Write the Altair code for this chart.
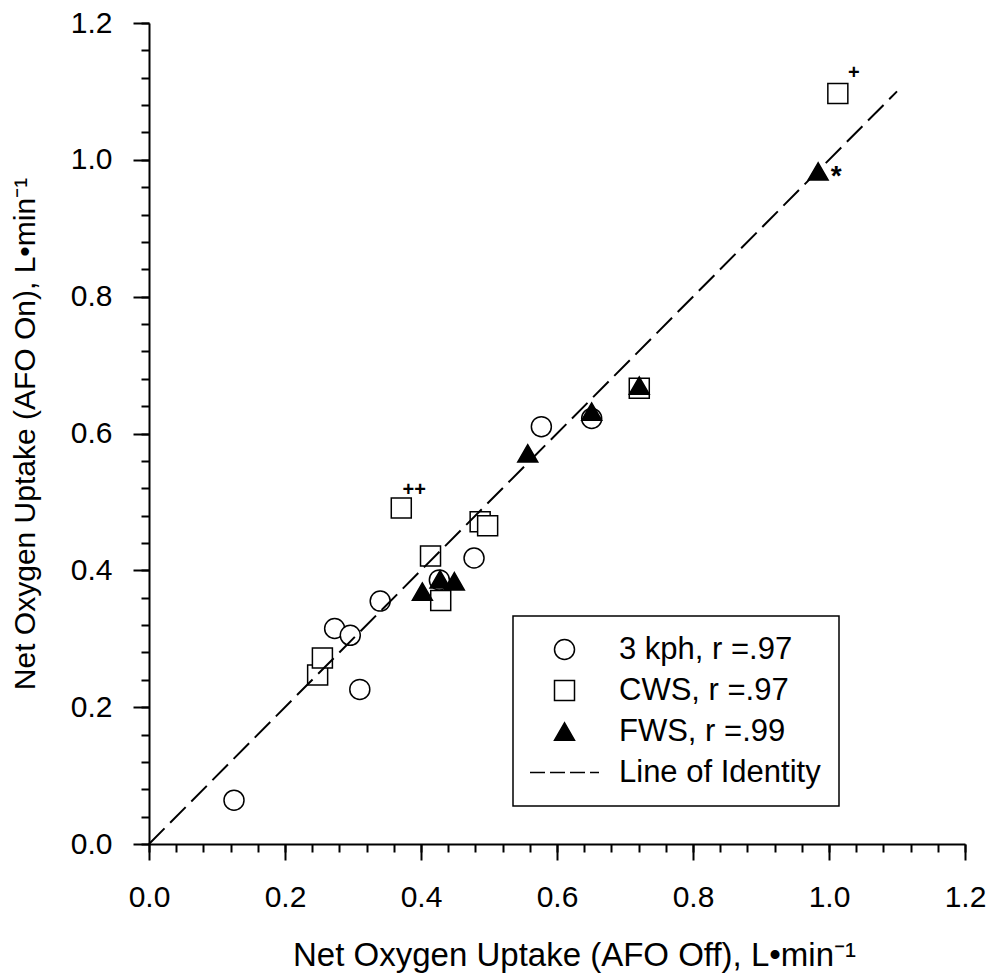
import altair as alt
import pandas as pd

# ---- data ----
kph_x = [0.125, 0.273, 0.296, 0.310, 0.340, 0.427, 0.478, 0.577, 0.651]
kph_y = [0.064, 0.315, 0.305, 0.226, 0.355, 0.386, 0.418, 0.610, 0.622]
cws_x = [0.248, 0.255, 0.371, 0.414, 0.429, 0.487, 0.498, 0.721, 1.013]
cws_y = [0.247, 0.272, 0.491, 0.421, 0.356, 0.471, 0.465, 0.666, 1.097]
fws_x = [0.402, 0.428, 0.449, 0.557, 0.651, 0.721, 0.984]
fws_y = [0.369, 0.387, 0.384, 0.571, 0.632, 0.670, 0.983]

series_names = ["3 kph, r =.97", "CWS, r =.97", "FWS, r =.99", "Line of Identity"]

identity_x = [0.0, 1.1]
identity_y = [0.0, 1.1]

major_ticks = [0.0, 0.2, 0.4, 0.6, 0.8, 1.0, 1.2]
minor_ticks = [0.0, 0.04, 0.08, 0.12, 0.16, 0.2, 0.24, 0.28, 0.32, 0.36, 0.4,
               0.44, 0.48, 0.52, 0.56, 0.6, 0.64, 0.68, 0.72, 0.76, 0.8,
               0.84, 0.88, 0.92, 0.96, 1.0, 1.04, 1.08, 1.12, 1.16, 1.2]

# annotations: text and the point each one belongs to
ann_text = ["++", "+", "*"]
ann_x = [0.371, 1.013, 0.984]
ann_y = [0.491, 1.097, 0.983]

x_title = "Net Oxygen Uptake (AFO Off), L\u2022min\u207b\u00b9"
y_title = "Net Oxygen Uptake (AFO On), L\u2022min\u207b\u00b9"

FONT = "Liberation Sans"

points = pd.DataFrame({
    "x": kph_x + cws_x + fws_x,
    "y": kph_y + cws_y + fws_y,
    "series": [series_names[0]] * len(kph_x)
    + [series_names[1]] * len(cws_x)
    + [series_names[2]] * len(fws_x),
})
line_df = pd.DataFrame({"x": identity_x, "y": identity_y})
ann_df = pd.DataFrame({"x": ann_x, "y": ann_y, "t": ann_text})

xscale = alt.Scale(domain=[0, 1.2], nice=False, zero=False)
yscale = alt.Scale(domain=[0, 1.2], nice=False, zero=False)

dash_path = "M-3.45,0H-1.95M-1.45,0H0.05M0.55,0H2.05M2.55,0H3.45"
shape_range = ["circle", "square", "triangle-up", dash_path]
fill_range = ["white", "white", "black", "transparent"]
stroke_range = ["black", "black", "black", "black"]

legend = alt.Legend(
    title=None,
    orient="none",
    legendX=364,
    legendY=593,
    padding=18,
    symbolOffset=18,
    labelOffset=39,
    symbolSize=400,
    symbolStrokeColor="black",
    symbolStrokeWidth=1.5,
    labelFont=FONT,
    labelFontSize=31,
    labelColor="black",
    labelLimit=500,
    rowPadding=9,
    strokeColor="black",
    fillColor="white",
)

major_x_axis = alt.Axis(
    values=major_ticks, format=".1f", orient="bottom", tickSize=16,
    labelPadding=22, labelFlush=False, titlePadding=27, titleFontSize=33,
    titleX=425,
)
major_y_axis = alt.Axis(
    values=major_ticks, format=".1f", orient="left", tickSize=16,
    labelPadding=21, labelFlush=False, titlePadding=30, titleFontSize=30,
)
minor_x_axis = alt.Axis(
    values=minor_ticks, orient="bottom", tickSize=8, labels=False, domain=False,
)
minor_y_axis = alt.Axis(
    values=minor_ticks, orient="left", tickSize=8, labels=False, domain=False,
)

pts = alt.Chart(points).mark_point(
    strokeWidth=1.5, opacity=1, size=400
).encode(
    x=alt.X("x:Q", scale=xscale, axis=major_x_axis, title=x_title),
    y=alt.Y("y:Q", scale=yscale, axis=major_y_axis, title=y_title),
    shape=alt.Shape("series:N", scale=alt.Scale(domain=series_names, range=shape_range), legend=legend),
    fill=alt.Fill("series:N", scale=alt.Scale(domain=series_names, range=fill_range), legend=legend),
    stroke=alt.Stroke("series:N", scale=alt.Scale(domain=series_names, range=stroke_range), legend=legend),
    order=alt.Order("series:N"),
)

line = alt.Chart(line_df).mark_line(
    color="black", strokeWidth=2, strokeDash=[22, 8]
).encode(
    x=alt.X("x:Q", scale=xscale, axis=minor_x_axis, title=None),
    y=alt.Y("y:Q", scale=yscale, axis=minor_y_axis, title=None),
)

def ann_layer(i, dx, dy, size):
    d = ann_df.iloc[[i]]
    return alt.Chart(d).mark_text(
        dx=dx, dy=dy, fontSize=size, fontWeight="bold", font=FONT, color="black"
    ).encode(
        x=alt.X("x:Q", scale=xscale, axis=None),
        y=alt.Y("y:Q", scale=yscale, axis=None),
        text="t:N",
    )

chart = alt.layer(
    pts,
    line,
    ann_layer(0, 13, -18, 20),
    ann_layer(1, 16, -20, 20),
    ann_layer(2, 18, 6, 28),
).resolve_axis(
    x="independent", y="independent"
).properties(
    width=816, height=821,
    padding={"left": 10, "top": 8, "right": 5, "bottom": 5},
    background="white",
).configure_view(
    stroke=None
).configure_legend(
    strokeWidth=1.5, cornerRadius=0,
).configure_axis(
    grid=False,
    domainColor="black", domainWidth=2,
    tickColor="black", tickWidth=2,
    labelFont=FONT, labelFontSize=30, labelColor="black",
    titleFont=FONT, titleColor="black", titleFontWeight="normal",
)

chart.save("out.html", embed_options={"renderer": "svg", "actions": False})
